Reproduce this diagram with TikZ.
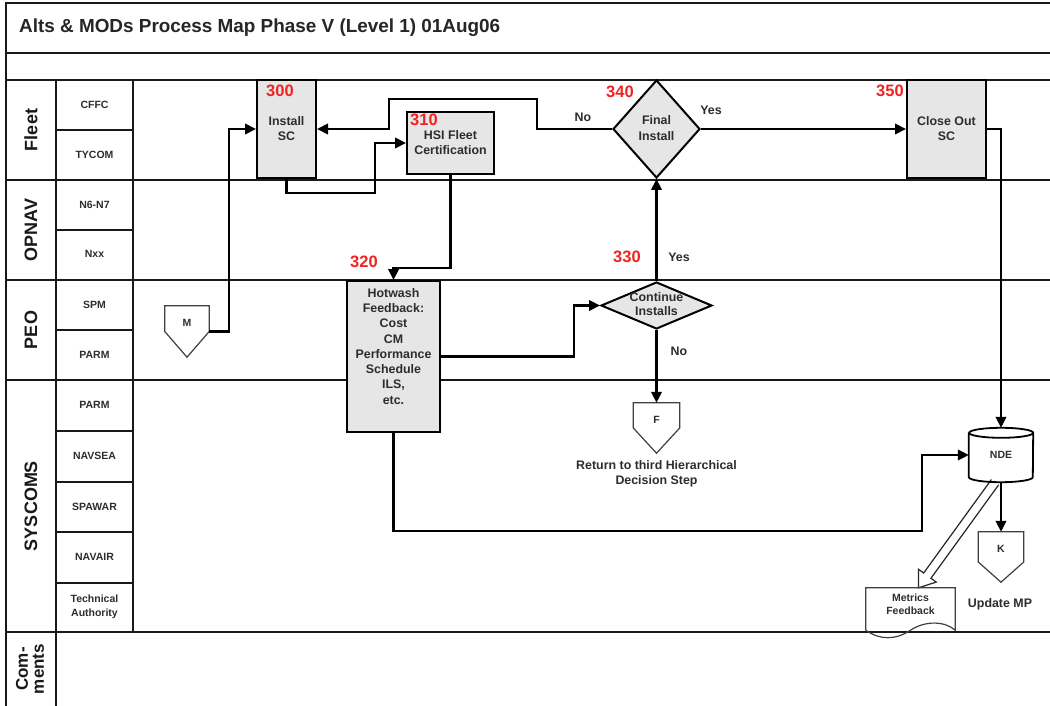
\documentclass[tikz,border=0pt]{standalone}
\usepackage{fontspec}
\setmainfont{Liberation Sans}
\usetikzlibrary{arrows.meta,calc,shapes.geometric}
\definecolor{boxgray}{RGB}{230,230,230}
\definecolor{numred}{RGB}{240,35,35}
\definecolor{txtgray}{RGB}{45,45,45}
\begin{document}
\begin{tikzpicture}[x=1pt,y=-1pt,
  frame/.style={line width=1.8pt, draw=black!90},
  proc/.style={draw, line width=2pt, fill=boxgray, inner sep=0pt, align=center, text=txtgray, font=\bfseries\fontsize{12.4}{15}\selectfont},
  dec/.style={draw, diamond, line width=2pt, fill=boxgray, inner sep=0pt},
  num/.style={text=numred, font=\bfseries\fontsize{16.5}{18}\selectfont, inner sep=0pt},
  lbl/.style={text=txtgray, font=\bfseries\fontsize{12.4}{15}\selectfont, align=center, inner sep=0pt},
  grp/.style={rotate=90, font=\bfseries\fontsize{18}{16}\selectfont, align=center, inner sep=0pt, text=black!90},
  sub/.style={font=\bfseries\fontsize{10.5}{14.5}\selectfont, align=center, inner sep=0pt, text=txtgray},
  conn/.style={line width=2.1pt, -{Triangle[length=11pt,width=10.5pt]}},
  offp/.style={draw=none, inner sep=0pt},
  offline/.style={line width=1.2pt, draw=black!75},
  small/.style={font=\bfseries\fontsize{10.5}{13}\selectfont, text=txtgray, inner sep=0pt, align=center}
]
\useasboundingbox (0,0) rectangle (1050,706);
\fill[white] (0,0) rectangle (1050,706);

% frame and lanes
\draw[frame] (6,706) -- (6,3) -- (1050,3);
\draw[frame] (6,53) -- (1050,53);
\draw[frame] (6,80) -- (1050,80);
\foreach \y in {180,280,380,632} \draw[frame] (6,\y) -- (1050,\y);
\draw[frame] (56,80) -- (56,706);
\draw[frame] (133,80) -- (133,632);
\foreach \y in {130,230,330,431,482,532,583} \draw[frame] (56,\y) -- (133,\y);

\node[anchor=west, font=\bfseries\fontsize{18.9}{20}\selectfont, text=black!85, inner sep=0pt] (title) at (19,28) {Alts \& MODs Process Map Phase V (Level 1) 01Aug06};

% lane labels
\node[grp] (gFleet) at (31,130) {Fleet};
\node[grp] (gOpnav) at (31,230) {OPNAV};
\node[grp] (gPeo) at (31,330) {PEO};
\node[grp] (gSys) at (31,506) {SYSCOMS};
\node[grp, font=\bfseries\fontsize{17}{16}\selectfont] (gCom) at (30,669) {Com-\\ments};

\node[sub] (sCFFC) at (94.5,105) {CFFC};
\node[sub] (sTYCOM) at (94.5,155) {TYCOM};
\node[sub] (sN6) at (94.5,205) {N6-N7};
\node[sub] (sNxx) at (94.5,254) {Nxx};
\node[sub] (sSPM) at (94.5,305) {SPM};
\node[sub] (sPARM) at (94.5,355) {PARM};
\node[sub] (sPARM2) at (94.5,405) {PARM};
\node[sub] (sNAVSEA) at (94.5,456) {NAVSEA};
\node[sub] (sSPAWAR) at (94.5,507) {SPAWAR};
\node[sub] (sNAVAIR) at (94.5,557) {NAVAIR};
\node[sub] (sTA) at (94.5,607) {Technical\\Authority};

% hollow arrow drawn first (under cylinder)
\node[offp, minimum width=64pt, minimum height=54pt, small] (nde) at (1001,455) {NDE};
\node[offp, minimum width=89pt, minimum height=42pt] (mf) at (910.5,609) {};
\draw[line width=1.2pt, draw=black!85, fill=white, line join=miter]
  let \p1=([xshift=-6pt]nde.south), \p2=([xshift=8pt]mf.north),
      \n1={atan2(\y2-\y1,\x2-\x1)}, \n2={veclen(\x2-\x1,\y2-\y1)} in
  [shift={(\x1,\y1)}, rotate=\n1]
  (0pt,4.5pt) -- ({\n2*1pt-15pt},4.5pt) -- ({\n2*1pt-15pt},11pt) -- ({\n2*1pt},0pt)
  -- ({\n2*1pt-15pt},-11pt) -- ({\n2*1pt-15pt},-4.5pt) -- (0pt,-4.5pt);

% process nodes
\node[proc, minimum width=59pt, minimum height=98pt] (p300) at (286.5,129) {Install\\SC};
\node[num, anchor=west] (n300) at (266,91) {300};
\node[proc, minimum width=87pt, minimum height=62pt] (p310) at (450.5,143) {HSI Fleet\\Certification};
\node[num, anchor=west] (n310) at (410,120) {310};

\node[dec, minimum width=87pt, minimum height=98pt] (d340) at (656.5,129) {};
\node[lbl, font=\bfseries\fontsize{12.4}{16}\selectfont] (t340) at (656.5,128) {Final\\Install};
\node[num] (n340) at (620,92) {340};
\node[lbl] (no340) at (583,117) {No};
\node[lbl] (yes340) at (711,110) {Yes};

\node[proc, minimum width=79pt, minimum height=98pt] (p350) at (946.5,129) {Close Out\\SC};
\node[num] (n350) at (890,91) {350};

\node[proc, minimum width=93pt, minimum height=151pt] (p320) at (393.5,356.5) {};
\node[lbl, anchor=north, font=\bfseries\fontsize{12.4}{15.3}\selectfont] (t320) at (393.5,288) {Hotwash\\Feedback:\\Cost\\CM\\Performance\\Schedule\\ILS,\\etc.};
\node[num] (n320) at (364,262) {320};

\node[dec, minimum width=111pt, minimum height=47pt] (d330) at (656.5,305.5) {};
\node[lbl, font=\bfseries\fontsize{12.4}{14.5}\selectfont] (t330) at (656.5,304) {Continue\\Installs};
\node[num] (n330) at (627,257) {330};
\node[lbl] (yes330) at (679,257) {Yes};
\node[lbl] (no330) at (679,351) {No};

% off-page connectors
\node[offp, minimum width=46pt, minimum height=50pt] (F) at (656.5,428) {};
\draw[offline] (F.north west) -- (F.north east) -- (F.east) -- (F.south) -- (F.west) -- cycle;
\node[small] (tF) at (656.5,420) {F};
\node[lbl] (retF) at (656.5,473.5) {Return to third Hierarchical\\Decision Step};

\node[offp, minimum width=44pt, minimum height=51pt] (M) at (187,331.5) {};
\draw[offline] (M.north west) -- (M.north east) -- (M.east) -- (M.south) -- (M.west) -- cycle;
\node[small] (tM) at (187,323) {M};

\node[offp, minimum width=45pt, minimum height=50pt] (K) at (1001,557) {};
\draw[offline] (K.north west) -- (K.north east) -- ([yshift=-5pt]K.east) -- (K.south) -- ([yshift=-5pt]K.west) -- cycle;
\node[small] (tK) at (1001,549) {K};
\node[lbl] (upd) at (1000,604) {Update MP};

% NDE cylinder
\draw[line width=1.8pt] ([yshift=-5pt]nde.north west) -- ([yshift=5pt]nde.south west)
  arc[start angle=180, end angle=360, x radius=32pt, y radius=5pt]
  -- ([yshift=-5pt]nde.north east)
  arc[start angle=0, end angle=360, x radius=32pt, y radius=5pt];

% metrics feedback document
\draw[offline] (mf.south west) -- (mf.north west) -- (mf.north east) -- (mf.south east)
  .. controls +(-10,-9) and +(15,-10) .. (mf.south)
  .. controls +(-15,10) and +(14,10) .. (mf.south west);
\node[small] (tmf) at (910.5,604.5) {Metrics\\Feedback};

% connectors
\draw[conn] (M.east) -- ++(20,0) |- (p300.west);
\draw[conn] (p300.south) -- ++(0,14) -| ($(p310.west)+(-31,0)$) -- (p310.west);
\draw[conn] (p310.south) -- ++(0,93) -| (p320.north);
\draw[conn] (p320.east) -- ++(133,0) |- (d330.west);
\draw[conn] (d330.north) -- (d340.south);
\draw[conn] (d330.south) -- (F.north);
\draw[conn] (d340.west) -- ++(-75,0) |- (389,99) |- (p300.east);
\draw[conn] (d340.east) -- (p350.west);
\draw[conn] (p350.east) -| (nde.north);
\draw[conn] (p320.south) -- ++(0,98) -- ++(528.5,0) |- (nde.west);
\draw[conn] (nde.south) -- (K.north);
\end{tikzpicture}
\end{document}
